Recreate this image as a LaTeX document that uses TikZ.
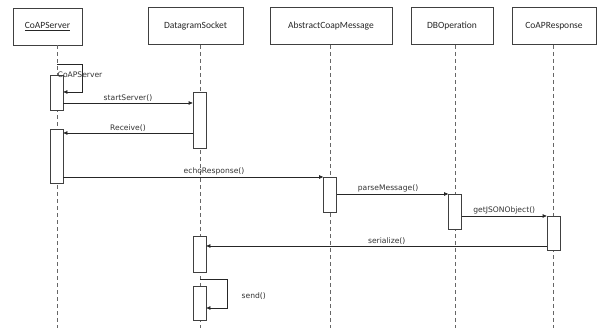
\documentclass[tikz,border=0pt]{standalone}
\usepackage{fontspec}
\setmainfont{Carlito}
\newfontfamily\lblfont{DejaVu Sans}
\usetikzlibrary{arrows.meta}
\begin{document}
\begin{tikzpicture}[x=1pt,y=-1pt,
  head/.style={draw=black!75,line width=0.7pt,fill=white,minimum height=37pt,inner sep=0pt,font=\fontsize{9.5}{11}\selectfont,text=black!85},
  life/.style={draw=black!60,line width=0.7pt,dash pattern=on 4pt off 3pt},
  act/.style={draw=black!75,line width=0.7pt,fill=white,minimum width=13pt,inner sep=0pt},
  msg/.style={draw=black!85,line width=0.7pt,-{Triangle[length=4pt,width=3.5pt]}},
  lbl/.style={font=\lblfont\fontsize{7.6}{9}\selectfont,text=black!80,inner sep=1.5pt}]
\useasboundingbox (0,0) rectangle (607,328);
% headers
\node[head,minimum width=69pt] (h1) at (47.5,26.5) {\underline{CoAPServer}};
\node[head,minimum width=95pt] (h2) at (195.5,26) {DatagramSocket};
\node[head,minimum width=122pt] (h3) at (331,26) {AbstractCoapMessage};
\node[head,minimum width=82pt] (h4) at (452,26) {DBOperation};
\node[head,minimum width=84pt] (h5) at (554,26) {CoAPResponse};
% lifeline ends
\coordinate (e1) at (57,328);
\coordinate (e2) at (200,328);
\coordinate (e3) at (330,328);
\coordinate (e4) at (455,328);
\coordinate (e5) at (553,328);
\draw[life] (h1.south -| e1) -- (e1);
\draw[life] (h2.south -| e2) -- (e2);
\draw[life] (h3.south -| e3) -- (e3);
\draw[life] (h4.south -| e4) -- (e4);
\draw[life] (h5.south -| e5) -- (e5);
% activations
\node[act,minimum height=35pt] (a1) at (56.5,92.5) {};
\node[act,minimum height=54pt] (a2) at (56.5,156) {};
\node[act,minimum height=56pt] (d1) at (199.5,120) {};
\node[act,minimum height=36pt] (d2) at (199.5,254) {};
\node[act,minimum height=34pt] (d3) at (199.5,303) {};
\node[act,minimum height=35pt] (m1) at (330,194.5) {};
\node[act,minimum height=35pt] (b1) at (455,211.5) {};
\node[act,minimum height=34pt] (r1) at (553.5,233) {};
% self call CoAPServer
\coordinate (s1) at (57,64);
\coordinate (s1b) at (82,64);
\coordinate (s1c) at (82,92);
\draw[msg] (s1) -- (s1b) -- (s1c) -- (a1.east |- s1c);
\node[lbl,anchor=west] (l0) at (56,75) {CoAPServer};
% messages
\draw[msg] (a1.east |- 0,103) -- node[lbl,above] (l1) {startServer()} (d1.west |- 0,103);
\draw[msg] (d1.west |- 0,133) -- node[lbl,above] (l2) {Receive()} (a2.east |- 0,133);
\draw[msg] (a2.east |- 0,177) -- node[lbl,above,pos=0.58] (l3) {echoResponse()} (m1.west |- 0,177);
\draw[msg] (m1.east |- 0,194) -- node[lbl,above,pos=0.46] (l4) {parseMessage()} (b1.west |- 0,194);
\draw[msg] (b1.east |- 0,216) -- node[lbl,above,pos=0.5] (l5) {getJSONObject()} (r1.west |- 0,216);
\draw[msg] (r1.west |- 0,246) -- node[lbl,above,pos=0.47] (l6) {serialize()} (d2.east |- 0,246);
% self call send
\coordinate (s2) at (200,279);
\coordinate (s2b) at (227,279);
\coordinate (s2c) at (227,308);
\draw[msg] (s2) -- (s2b) -- (s2c) -- (d3.east |- s2c);
\node[lbl,anchor=west] (l7) at (240,296) {send()};
\end{tikzpicture}
\end{document}
